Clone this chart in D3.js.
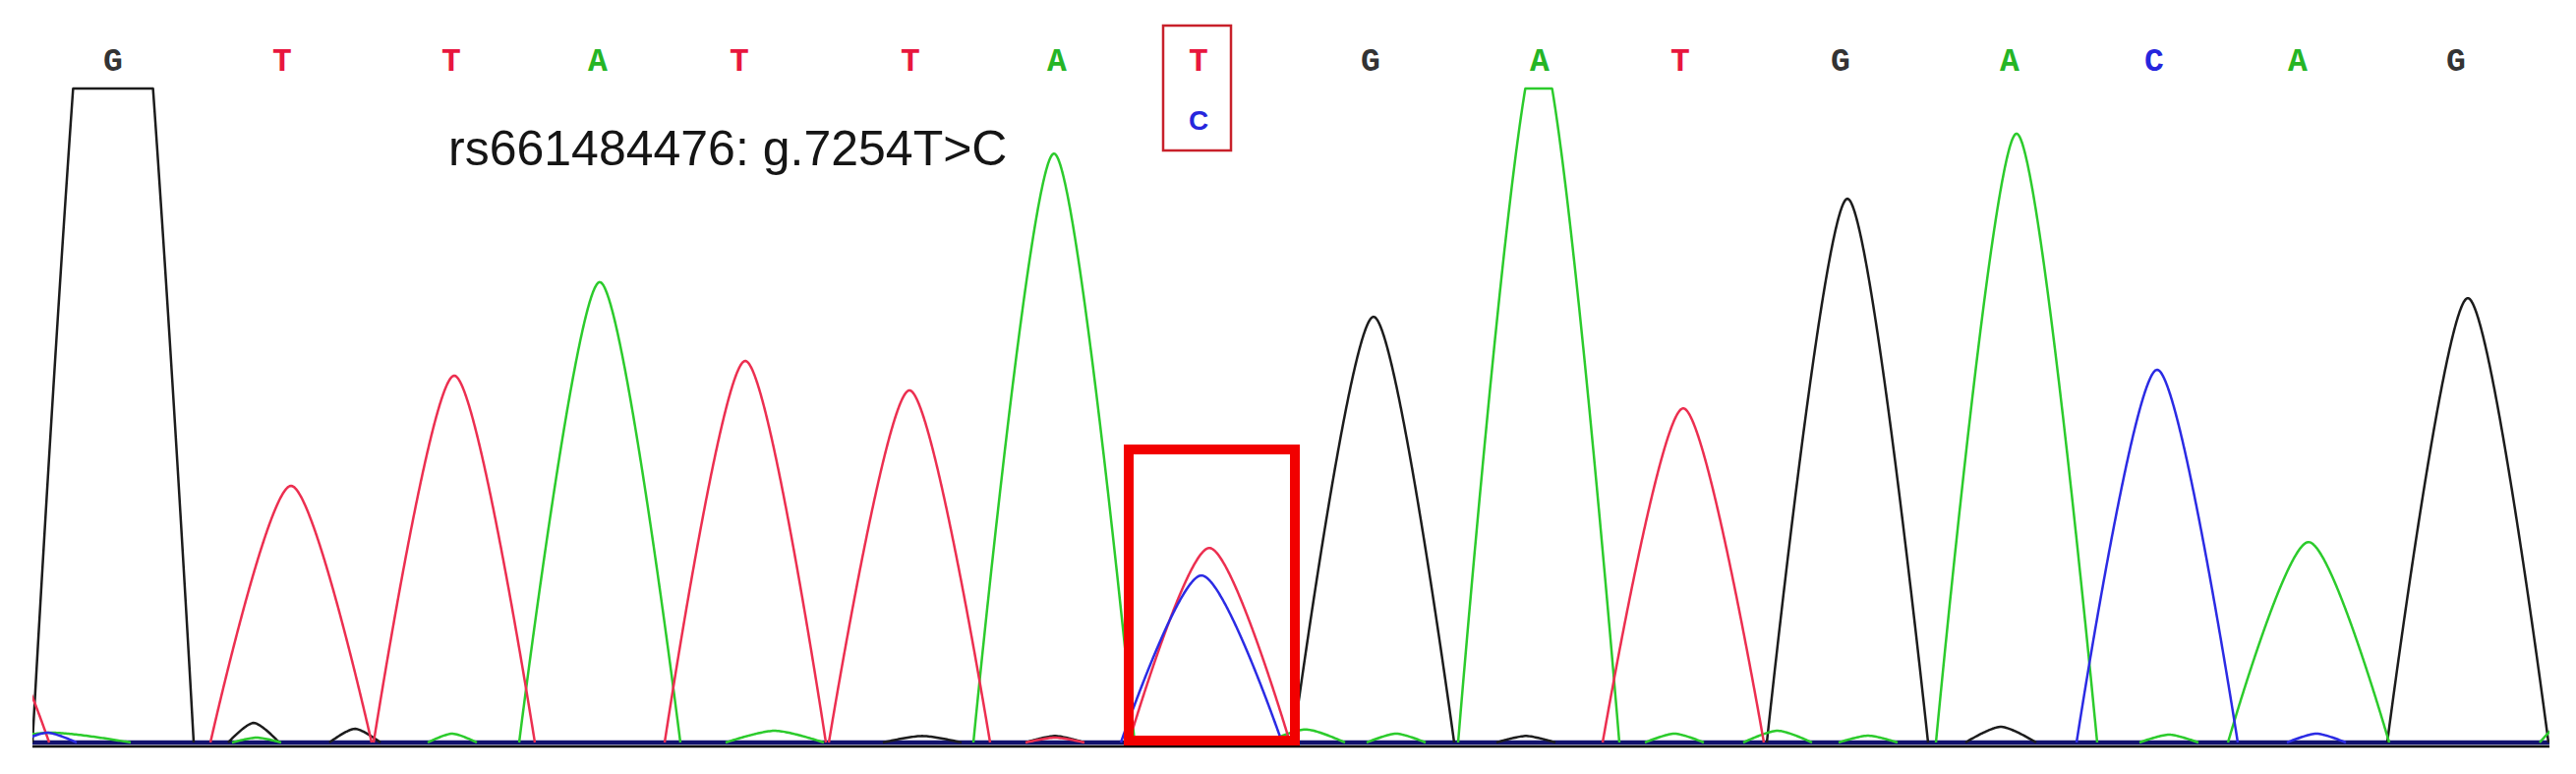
<!DOCTYPE html>
<html>
<head>
<meta charset="utf-8">
<script src="https://cdn.jsdelivr.net/npm/d3@7"></script>
<style>
  html, body { margin: 0; padding: 0; background: #fff; overflow: hidden; }
</style>
</head>
<body>
<svg id="chart" width="2620" height="787"></svg>
<script>
// base calls printed above the trace, and their scan positions
const baseCalls = ['G', 'T', 'T', 'A', 'T', 'T', 'A', 'T', 'G', 'A', 'T', 'G', 'A', 'C', 'A', 'G'];
const baseScans = [8.2, 25.4, 42.6, 57.5, 71.9, 89.3, 104.2, 118.6, 136.1, 153.3, 167.6, 183.9, 201.1, 215.8, 230.4, 246.5];

// heterozygous position
const variantIndex = 7;
const variantCall = 'C';
const snpLabel = 'rs661484476: g.7254T>C';

// main peaks: channel, scan of the apex, signal height
const peakBases   = ['G', 'T', 'T', 'A', 'T', 'T', 'A', 'T', 'C', 'G', 'A', 'T', 'G', 'A', 'C', 'A', 'G'];
const peakScans   = [8.2, 26.3, 42.9, 57.7, 72.5, 89.2, 103.9, 119.7, 118.9, 136.4, 153.2, 167.9, 184.6, 201.8, 216.1, 231.5, 247.7];
const peakHeights = [3200, 785, 1122, 1408, 1167, 1077, 1801, 595, 511, 1302, 2150, 1022, 1663, 1862, 1140, 613, 1359];
const peakHalfWidth = 8.2; // scans

// small background bumps near the baseline
const minorBases   = ['G', 'G', 'G', 'G', 'G', 'G', 'A', 'A', 'A', 'A', 'A', 'A', 'A', 'A', 'A', 'A', 'A', 'T', 'T', 'C', 'C'];
const minorScans   = [22.5, 32.8, 90.5, 104, 151.9, 200.2, 2, 22.8, 42.7, 75.5, 129.5, 138.7, 167, 177.5, 186.7, 217.3, 259, -3, 104, 1.5, 232.3];
const minorHeights = [60, 42, 20, 20, 20, 48, 30, 15, 27, 36, 40, 27, 27, 36, 21, 24, 100, 300, 15, 30, 27];
const minorWidths  = [2.6, 2.6, 4, 3, 3, 3.6, 8, 2.5, 2.5, 5, 4, 3, 3, 3.5, 3, 3, 4, 4.7, 3, 3, 3];

const traceColor = { A: '#2ccb2c', C: '#2b2be4', G: '#1c1c1c', T: '#ec2f50' };
const letterColor = { A: '#25b525', C: '#2626dd', G: '#333333', T: '#e8163e' };

const W = 2620, H = 787;
const plotLeft = 33, plotRight = 2593, baseY = 755, ceilY = 90;

const svg = d3.select('#chart');

const x = d3.scaleLinear().domain([0, 256]).range([plotLeft, plotRight]);
const y = d3.scaleLinear().domain([0, 2000]).range([baseY, ceilY]);

svg.append('defs').append('clipPath').attr('id', 'plot')
  .append('rect').attr('x', plotLeft).attr('y', 0).attr('width', plotRight - plotLeft).attr('height', H);

const plot = svg.append('g').attr('clip-path', 'url(#plot)');

// baseline: black axis with the flat traces sitting on it
plot.append('line').attr('x1', plotLeft).attr('x2', plotRight).attr('y1', baseY + 4).attr('y2', baseY + 4)
  .attr('stroke', '#0a0a0a').attr('stroke-width', 2.5);
plot.append('line').attr('x1', plotLeft).attr('x2', plotRight).attr('y1', baseY).attr('y2', baseY)
  .attr('stroke', '#12126e').attr('stroke-width', 4.5);

// peaks drawn as cardinal splines, then clamped to the display ceiling
const peakLine = d3.line().curve(d3.curveCardinal.tension(0.15));
const flatLine = d3.line();
const probe = svg.append('path').attr('fill', 'none');

function peakPath(c, h, w) {
  probe.attr('d', peakLine([[x(c - w), y(0)], [x(c), y(h)], [x(c + w), y(0)]]));
  const node = probe.node();
  const total = node.getTotalLength();
  const pts = [];
  for (let s = 0; s <= total; s += 1.5) {
    const p = node.getPointAtLength(s);
    pts.push([p.x, Math.max(p.y, ceilY)]);
  }
  const end = node.getPointAtLength(total);
  pts.push([end.x, Math.max(end.y, ceilY)]);
  return flatLine(pts);
}

const peaks = peakBases.map((b, i) => ({ base: b, c: peakScans[i], h: peakHeights[i], w: peakHalfWidth }))
  .concat(minorBases.map((b, i) => ({ base: b, c: minorScans[i], h: minorHeights[i], w: minorWidths[i] })));

const order = ['G', 'A', 'T', 'C'];
order.forEach(ch => {
  plot.append('g').selectAll('path')
    .data(peaks.filter(p => p.base === ch))
    .join('path')
    .attr('d', p => peakPath(p.c, p.h, p.w))
    .attr('fill', 'none')
    .attr('stroke', traceColor[ch])
    .attr('stroke-width', 2.5)
    .attr('stroke-linejoin', 'round');
});
probe.remove();

// base call letters
svg.append('g').selectAll('text')
  .data(baseCalls)
  .join('text')
  .attr('x', (d, i) => x(baseScans[i]))
  .attr('y', 72)
  .attr('text-anchor', 'middle')
  .attr('font-family', '"Liberation Mono", "DejaVu Sans Mono", monospace')
  .attr('font-weight', 'bold')
  .attr('font-size', 33)
  .attr('fill', d => letterColor[d])
  .text(d => d);

// secondary call under the heterozygous position
const vx = x(baseScans[variantIndex]);
svg.append('text')
  .attr('x', vx).attr('y', 132)
  .attr('text-anchor', 'middle')
  .attr('font-family', '"Liberation Sans", Arial, sans-serif')
  .attr('font-weight', 'bold')
  .attr('font-size', 28)
  .attr('fill', letterColor[variantCall])
  .text(variantCall);

svg.append('rect')
  .attr('x', vx - 36).attr('y', 26).attr('width', 69).attr('height', 127)
  .attr('fill', 'none').attr('stroke', '#c8202a').attr('stroke-width', 2.5);

// highlight box around the double peak
const px = x(peakScans[variantIndex]);
svg.append('rect')
  .attr('x', px - 82).attr('y', 457).attr('width', 169).attr('height', 296)
  .attr('fill', 'none').attr('stroke', '#f20000').attr('stroke-width', 10);

svg.append('text')
  .attr('x', 456).attr('y', 168)
  .attr('font-family', '"Liberation Sans", Arial, sans-serif')
  .attr('font-size', 50)
  .attr('fill', '#151515')
  .text(snpLabel);
</script>
</body>
</html>
